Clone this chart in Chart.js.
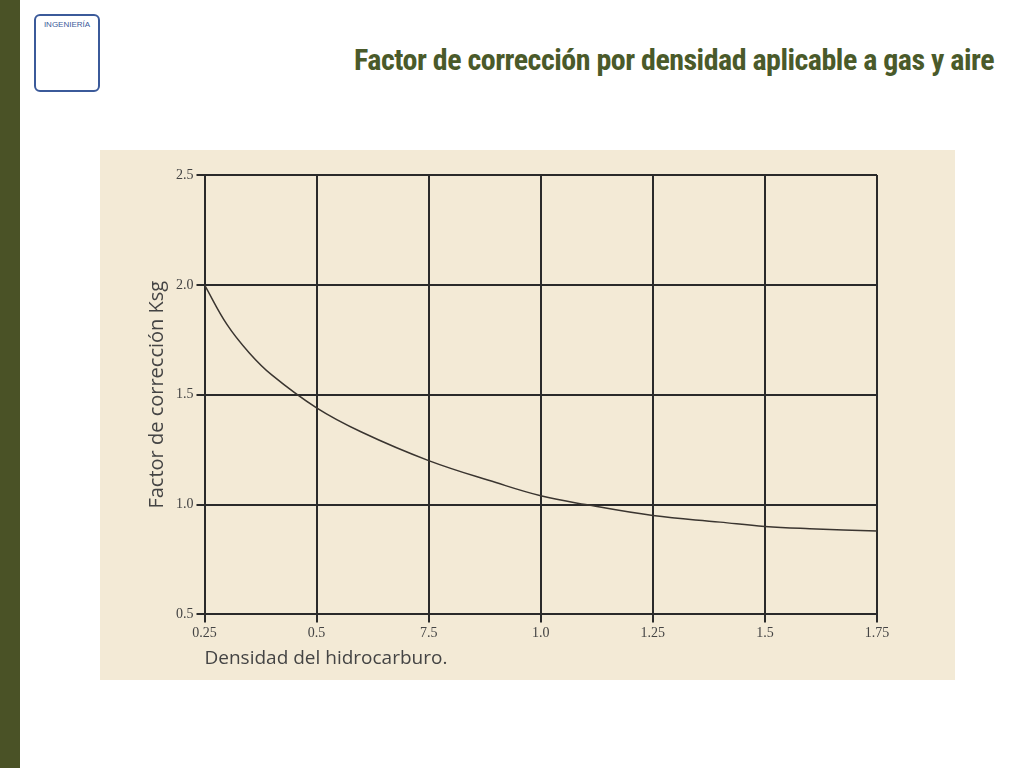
<!DOCTYPE html>
<html><head><meta charset="utf-8">
<script src="https://cdn.jsdelivr.net/npm/chart.js@4"></script>
<style>
body{margin:0;width:1024px;height:768px;background:#fff;position:relative;overflow:hidden;font-family:"Liberation Sans",sans-serif}
#bar{position:absolute;left:0;top:0;width:20px;height:768px;background:#4a5226}
#title{position:absolute;right:30px;top:42px;font-family:"Liberation Sans Narrow","Roboto Condensed","Liberation Sans",sans-serif;font-weight:bold;font-size:30px;color:#4a5a2a;letter-spacing:-0.5px}
#logo{position:absolute;left:34px;top:14px;width:66px;height:78px;border:2px solid #3b5a9a;border-radius:6px;color:#3b5a9a;font-size:8px;text-align:center;box-sizing:border-box;padding-top:4px}
#panel{position:absolute;left:100px;top:150px;width:855px;height:530px;background:#f3ead6}
</style></head><body>
<div id="bar"></div>
<div id="logo">INGENIERÍA</div>
<div id="title">Factor de corrección por densidad aplicable a gas y aire</div>
<div id="panel"><canvas id="c" width="855" height="530"></canvas></div>
<script>
const xTickLabels=["0.25","0.5","7.5","1.0","1.25","1.5","1.75"];
const yTickLabels=["0.5","1.0","1.5","2.0","2.5"];
const densidad=[0.25,0.3,0.35,0.4,0.5,0.6,0.75,0.9,1.0,1.1,1.25,1.4,1.5,1.6,1.75];
const factor=[2.0,1.82,1.69,1.59,1.44,1.33,1.2,1.1,1.04,1.0,0.95,0.92,0.9,0.89,0.88];
new Chart(document.getElementById('c'),{
type:'line',
data:{datasets:[{data:densidad.map((x,i)=>({x,y:factor[i]})),borderColor:'#3a3530',borderWidth:1.5,pointRadius:0,tension:0.4,fill:false}]},
options:{responsive:false,animation:false,
layout:{padding:{left:41,right:78,top:25,bottom:6}},
plugins:{legend:{display:false},tooltip:{enabled:false}},
scales:{
x:{type:'linear',min:0.25,max:1.75,ticks:{stepSize:0.25,color:'#444',font:{family:'Liberation Serif',size:14},callback:(v,i)=>xTickLabels[i]},
grid:{color:'#2a2a2a',lineWidth:2},border:{color:'#2a2a2a',width:2},
title:{display:true,text:'Densidad del hidrocarburo.',color:'#444',font:{family:'Open Sans',size:19},align:'start',padding:{top:2}}},
y:{min:0.5,max:2.5,ticks:{stepSize:0.5,color:'#444',font:{family:'Liberation Serif',size:14},callback:(v,i)=>yTickLabels[i]},
grid:{color:'#2a2a2a',lineWidth:2},border:{color:'#2a2a2a',width:2},
title:{display:true,text:'Factor de corrección Ksg',color:'#444',font:{family:'Open Sans',size:20}}}
}}});
</script></body></html>
